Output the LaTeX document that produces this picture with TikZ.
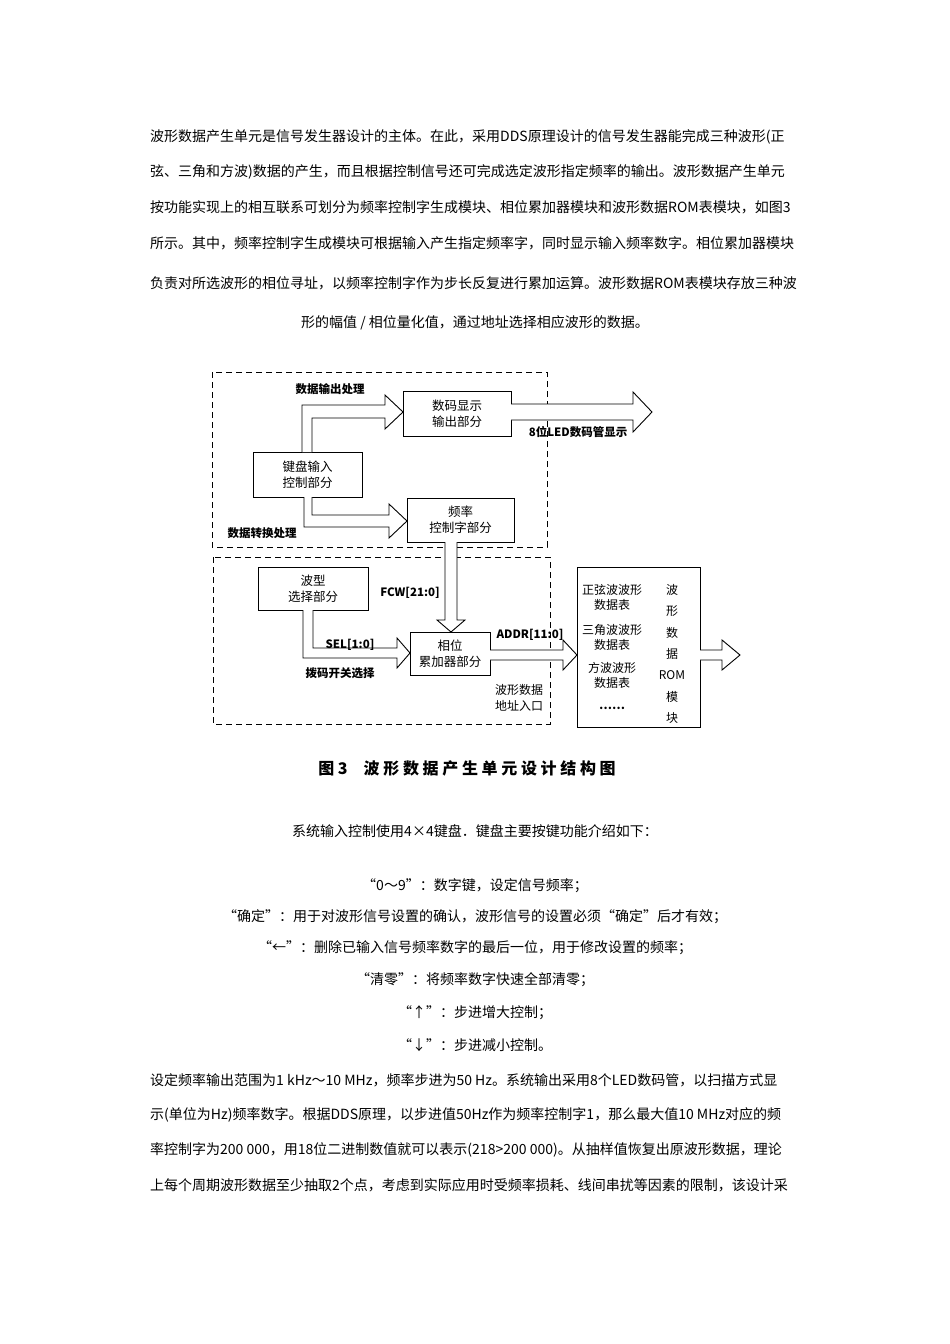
\documentclass[tikz,border=0pt]{standalone}
\usepackage{fontspec}
\setmainfont{Noto Sans CJK SC}
\begin{document}
\begin{tikzpicture}[x=1pt,y=-1pt,
  body/.style={anchor=west,inner sep=0pt,font=\fontsize{14}{16}\selectfont},
  bx/.style={draw,line width=0.9pt,align=center,font=\fontsize{12.5}{16}\selectfont},
  lbl/.style={inner sep=0pt,font=\fontsize{11.5}{13}\selectfont\bfseries},
  ha/.style={draw,line width=0.9pt,fill=white},
  dbox/.style={draw,dashed,line width=0.9pt,dash pattern=on 6pt off 4pt}]
\useasboundingbox (0,0) rectangle (950,1344);
\fill[white] (0,0) rectangle (950,1344);
% top paragraph
\node[body] (p1) at (150,137) {波形数据产生单元是信号发生器设计的主体。在此，采用DDS原理设计的信号发生器能完成三种波形(正};
\node[body] (p2) at (150,172) {弦、三角和方波)数据的产生，而且根据控制信号还可完成选定波形指定频率的输出。波形数据产生单元};
\node[body] (p3) at (150,207) {按功能实现上的相互联系可划分为频率控制字生成模块、相位累加器模块和波形数据ROM表模块，如图3};
\node[body] (p4) at (150,243) {所示。其中，频率控制字生成模块可根据输入产生指定频率字，同时显示输入频率数字。相位累加器模块};
\node[body] (p5) at (150,283) {负责对所选波形的相位寻址，以频率控制字作为步长反复进行累加运算。波形数据ROM表模块存放三种波};
\node[body,anchor=center] (p6) at (475,323) {形的幅值 / 相位量化值，通过地址选择相应波形的数据。};
% dashed boxes
\draw[dbox] (212,372) rectangle (547,547);
\draw[dbox] (213,557) rectangle (550,724);
% boxes
\node[bx,minimum width=108pt,minimum height=45pt] (disp) at (457,413.5) {数码显示\\输出部分};
\node[bx,minimum width=109pt,minimum height=45pt] (kbd) at (307.5,474.5) {键盘输入\\控制部分};
\node[bx,minimum width=107pt,minimum height=44pt] (freq) at (460.5,520) {频率\\控制字部分};
\node[bx,minimum width=110pt,minimum height=43pt] (wsel) at (313,588.5) {波型\\选择部分};
\node[bx,minimum width=80pt,minimum height=43pt,inner sep=1pt] (acc) at (450,653.5) {相位\\累加器部分};
\node[draw,line width=0.9pt,minimum width=123pt,minimum height=160pt] (rom) at (638.5,647) {};
% hollow arrows
\draw[ha] (302,452)--(302,405)--(385,405)--(385,395)--(403,412)--(385,429)--(385,418)--(312,418)--(312,452);
\draw[ha] (304,497)--(304,527)--(389,527)--(389,538)--(407,521)--(389,504)--(389,515)--(312,515)--(312,497);
\draw[ha] (511,404)--(633,404)--(633,392)--(652,412)--(633,432)--(633,420)--(511,420);
\draw[ha] (445,542)--(445,620)--(437,620)--(451,632)--(465,620)--(457,620)--(457,542);
\draw[ha] (303,610)--(303,658)--(397,658)--(397,668)--(410,653)--(397,638)--(397,648)--(313,648)--(313,610);
\draw[ha] (490,650)--(563,650)--(563,640)--(577,655)--(563,670)--(563,660)--(490,660);
\draw[ha] (700,650)--(722,650)--(722,640)--(740,655)--(722,670)--(722,660)--(700,660);
% labels
\node[lbl] (l1) at (330,389) {数据输出处理};
\node[lbl] (l2) at (578,432) {8位LED数码管显示};
\node[lbl] (l3) at (262,533) {数据转换处理};
\node[lbl] (l4) at (410,593) {FCW[21:0]};
\node[lbl] (l5) at (350,645) {SEL[1:0]};
\node[lbl] (l6) at (340,673) {拨码开关选择};
\node[lbl] (l7) at (530,635) {ADDR[11:0]};
\node[align=center,inner sep=0pt,font=\fontsize{12}{16}\selectfont] (l8) at (519,698) {波形数据\\地址入口};
\node[align=center,inner sep=0pt,font=\fontsize{12}{15}\selectfont] (r1) at (612,597) {正弦波波形\\数据表};
\node[align=center,inner sep=0pt,font=\fontsize{12}{15}\selectfont] (r2) at (612,637) {三角波波形\\数据表};
\node[align=center,inner sep=0pt,font=\fontsize{12}{15}\selectfont] (r3) at (612,675) {方波波形\\数据表};
\node[lbl] (r4) at (612,708) {……};
\node[align=center,inner sep=0pt,font=\fontsize{12}{21.3}\selectfont] (r5) at (672,654) {波\\形\\数\\据\\ROM\\模\\块};
\node[inner sep=0pt,font=\fontsize{16}{18}\selectfont\bfseries] (cap) at (467,768) {图 3\quad 波 形 数 据 产 生 单 元 设 计 结 构 图};
% lower text
\node[body,anchor=center] (q1) at (475,831) {系统输入控制使用4×4键盘．键盘主要按键功能介绍如下：};
\node[body,anchor=center] (q2) at (475,886) {“0～9”：数字键，设定信号频率；};
\node[body,anchor=center] (q3) at (475,917) {“确定”：用于对波形信号设置的确认，波形信号的设置必须“确定”后才有效；};
\node[body,anchor=center] (q4) at (475,948) {“←”：删除已输入信号频率数字的最后一位，用于修改设置的频率；};
\node[body,anchor=center] (q5) at (475,980) {“清零”：将频率数字快速全部清零；};
\node[body,anchor=center] (q6) at (475,1013) {“↑”：步进增大控制；};
\node[body,anchor=center] (q7) at (475,1045) {“↓”：步进减小控制。};
\node[body] (q8) at (150,1080) {设定频率输出范围为1 kHz～10 MHz，频率步进为50 Hz。系统输出采用8个LED数码管，以扫描方式显};
\node[body] (q9) at (150,1115) {示(单位为Hz)频率数字。根据DDS原理，以步进值50Hz作为频率控制字1，那么最大值10 MHz对应的频};
\node[body] (q10) at (150,1150) {率控制字为200 000，用18位二进制数值就可以表示(218>200 000)。从抽样值恢复出原波形数据，理论};
\node[body] (q11) at (150,1185) {上每个周期波形数据至少抽取2个点，考虑到实际应用时受频率损耗、线间串扰等因素的限制，该设计采};
\end{tikzpicture}
\end{document}
